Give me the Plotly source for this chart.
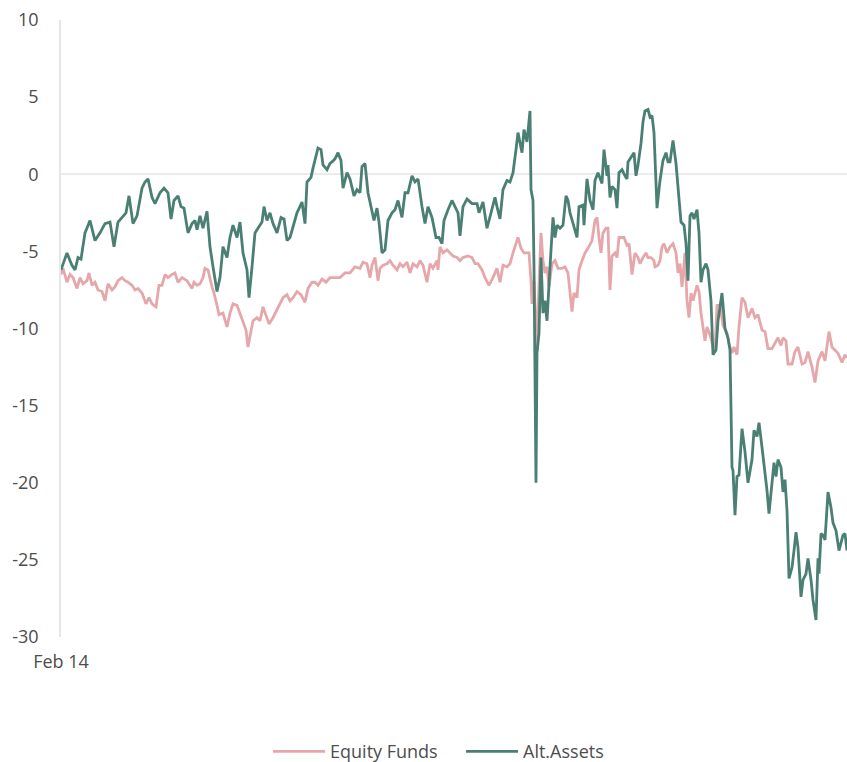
import pandas as pd
import plotly.graph_objects as go

start_date = "2022-02-14"
x_tick_label = "Feb 14"
y_ticks = [10, 5, 0, -5, -10, -15, -20, -25, -30]
y_tick_labels = ["10", "5", "0", "-5", "-10", "-15", "-20", "-25", "-30"]
x_span_days = 786

eq_day = [0, 2, 6, 9, 12, 16, 19, 22, 26, 28, 31, 34, 37, 41, 44, 47, 51, 54, 57, 61, 64, 67, 71, 74, 77, 81, 85, 88, 91, 95, 98, 101, 104, 107, 111, 114, 117, 121, 126, 131, 133, 136, 139, 142, 144, 147, 151, 153, 156, 158, 162, 166, 169, 172, 176, 179, 182, 185, 187, 190, 192, 196, 199, 202, 205, 208, 212, 215, 218, 222, 226, 229, 232, 236, 240, 244, 247, 251, 254, 257, 261, 265, 269, 274, 279, 284, 289, 294, 299, 302, 306, 309, 311, 314, 317, 319, 322, 326, 329, 332, 336, 339, 342, 346, 349, 352, 356, 359, 362, 366, 369, 372, 376, 377, 379, 382, 386, 389, 392, 396, 399, 402, 407, 411, 414, 417, 421, 424, 428, 432, 436, 439, 442, 446, 449, 452, 455, 457, 460, 463, 466, 468, 470, 471, 473, 475, 476, 478, 480, 482, 484, 486, 488, 491, 494, 497, 501, 504, 507, 511, 513, 516, 518, 521, 524, 527, 531, 534, 536, 538, 540, 542, 545, 547, 549, 551, 554, 556, 558, 561, 563, 566, 568, 571, 574, 577, 579, 582, 585, 587, 590, 593, 594, 597, 599, 601, 603, 606, 609, 612, 615, 617, 619, 621, 624, 626, 628, 630, 632, 636, 638, 640, 642, 644, 646, 649, 652, 654, 656, 659, 662, 666, 668, 671, 673, 676, 678, 681, 684, 687, 691, 694, 697, 701, 704, 707, 711, 714, 717, 720, 722, 725, 727, 731, 734, 737, 741, 744, 747, 751, 754, 757, 761, 764, 767, 768, 771, 774, 777, 781, 784, 786]
eq_val = [-6.5, -6.1, -7.0, -6.5, -6.7, -7.4, -6.7, -7.1, -6.9, -6.4, -7.2, -7.0, -7.5, -7.6, -8.2, -7.1, -7.5, -7.3, -6.9, -6.7, -6.9, -7.0, -7.2, -7.5, -7.4, -7.7, -8.4, -8.0, -8.4, -8.6, -7.2, -7.2, -6.5, -6.7, -6.5, -6.4, -7.0, -6.7, -6.9, -7.4, -7.0, -7.2, -7.1, -6.7, -6.1, -6.2, -7.3, -7.7, -8.5, -9.1, -9.0, -9.9, -9.0, -8.4, -8.5, -9.0, -9.5, -10.1, -11.2, -10.3, -9.5, -9.3, -9.5, -8.6, -9.1, -9.7, -9.3, -8.9, -8.5, -8.0, -7.8, -8.2, -8.0, -7.6, -7.8, -8.3, -7.4, -7.0, -7.0, -7.2, -6.8, -7.0, -6.7, -6.7, -6.7, -6.4, -6.4, -6.0, -6.1, -5.7, -5.8, -6.7, -5.9, -5.4, -6.9, -6.1, -5.9, -5.8, -5.6, -5.9, -6.2, -5.8, -6.0, -5.7, -6.4, -5.8, -6.0, -5.6, -5.9, -7.0, -5.8, -6.1, -5.6, -6.2, -4.7, -5.1, -4.9, -5.1, -5.3, -5.4, -5.6, -5.4, -5.3, -5.4, -5.8, -5.8, -6.2, -6.7, -7.2, -6.7, -6.1, -7.0, -5.9, -6.0, -5.8, -5.1, -4.5, -4.1, -4.8, -5.1, -5.1, -5.1, -6.9, -8.4, -6.9, -9.9, -11.4, -7.1, -3.8, -5.6, -6.4, -6.0, -7.3, -5.8, -5.6, -6.1, -6.1, -6.0, -6.4, -8.9, -7.7, -8.0, -6.2, -5.6, -5.1, -4.8, -4.3, -3.0, -2.8, -4.1, -5.1, -3.8, -3.5, -3.5, -7.5, -5.3, -5.1, -5.4, -4.1, -4.1, -4.1, -4.6, -4.5, -6.5, -5.1, -5.4, -5.8, -5.4, -5.1, -5.4, -5.4, -5.6, -6.0, -5.9, -5.6, -4.7, -4.5, -5.1, -4.7, -4.5, -5.1, -6.4, -5.8, -7.3, -5.1, -8.2, -9.3, -7.7, -8.2, -7.2, -7.6, -9.0, -9.8, -10.8, -9.9, -10.4, -11.2, -11.4, -8.5, -8.5, -9.8, -10.3, -11.0, -11.6, -11.2, -11.7, -9.9, -8.0, -8.3, -9.3, -8.7, -9.3, -9.1, -10.1, -10.2, -11.3, -11.3, -10.9, -10.6, -11.1, -10.6, -10.8, -12.3, -12.3, -11.5, -11.2, -12.3, -12.2, -11.5, -12.5, -13.5, -12.1, -11.5, -12.1, -10.6, -10.2, -11.2, -11.4, -11.6, -12.2, -11.7, -11.9]

alt_day = [0, 3, 6, 9, 11, 14, 17, 20, 24, 29, 34, 39, 44, 49, 53, 57, 61, 65, 68, 72, 76, 81, 84, 87, 91, 94, 99, 103, 107, 110, 113, 117, 120, 123, 127, 131, 134, 136, 139, 142, 146, 149, 152, 156, 159, 162, 166, 169, 172, 176, 179, 182, 186, 188, 191, 194, 197, 201, 203, 206, 209, 212, 216, 220, 223, 226, 229, 232, 236, 241, 244, 246, 250, 252, 255, 257, 260, 262, 266, 269, 271, 274, 277, 280, 282, 286, 289, 293, 296, 299, 301, 304, 307, 311, 313, 316, 318, 321, 324, 327, 331, 334, 337, 341, 344, 347, 351, 354, 357, 361, 364, 367, 371, 375, 378, 381, 383, 387, 391, 394, 397, 399, 402, 406, 411, 416, 418, 422, 426, 430, 434, 436, 439, 442, 446, 449, 452, 455, 457, 461, 463, 466, 469, 470, 472, 473, 475, 476, 478, 480, 482, 484, 486, 489, 492, 494, 496, 499, 502, 505, 507, 509, 512, 516, 518, 522, 523, 526, 529, 532, 534, 537, 541, 543, 546, 547, 549, 551, 554, 556, 558, 561, 564, 566, 567, 571, 573, 575, 577, 580, 582, 584, 587, 589, 591, 593, 595, 596, 599, 602, 605, 607, 609, 612, 615, 617, 620, 623, 625, 627, 629, 631, 633, 636, 638, 640, 642, 645, 647, 650, 652, 655, 657, 661, 664, 667, 669, 671, 672, 674, 676, 678, 681, 684, 687, 691, 693, 696, 698, 701, 703, 706, 708, 711, 713, 715, 717, 720, 722, 724, 726, 728, 731, 733, 735, 737, 740, 742, 745, 747, 750, 752, 755, 757, 758, 760, 762, 764, 767, 770, 772, 775, 778, 782, 784, 786]
alt_val = [-6.2, -5.7, -5.1, -5.6, -5.9, -6.2, -5.4, -5.5, -3.8, -3.0, -4.3, -3.8, -3.2, -3.1, -4.7, -3.1, -2.8, -2.5, -1.4, -3.2, -2.7, -0.9, -0.5, -0.3, -1.5, -1.9, -1.2, -0.9, -1.2, -2.9, -1.7, -1.4, -2.1, -2.2, -3.8, -3.2, -3.0, -3.6, -2.7, -3.5, -2.4, -4.7, -6.0, -7.6, -6.7, -4.7, -5.4, -4.1, -3.3, -4.1, -3.1, -5.1, -6.2, -8.0, -6.0, -3.8, -3.5, -3.1, -2.1, -3.0, -2.5, -3.2, -3.8, -2.8, -2.9, -4.3, -4.1, -3.4, -2.5, -1.8, -3.2, -0.5, -0.2, 0.4, 1.1, 1.7, 1.6, 0.6, 0.3, 0.7, 0.8, 1.0, 1.4, 0.9, -0.9, 0.1, -0.3, -1.4, -1.0, -1.2, 0.5, 0.7, -1.2, -2.5, -3.0, -2.2, -3.1, -5.1, -4.9, -3.0, -2.5, -2.3, -1.7, -2.8, -1.2, -1.2, -0.1, -0.5, -0.3, -2.1, -3.2, -2.1, -2.8, -4.1, -4.1, -4.5, -3.0, -2.3, -1.7, -2.1, -2.5, -4.0, -2.1, -1.6, -1.9, -1.9, -2.5, -1.8, -3.5, -2.5, -1.5, -2.1, -2.9, -1.0, -0.4, -0.5, 0.1, 1.6, 2.7, 1.4, 2.9, 2.1, 4.1, -1.0, -1.7, -6.0, -20.0, -11.6, -10.3, -5.4, -9.0, -8.2, -9.5, -6.0, -2.8, -4.1, -3.3, -3.5, -3.3, -1.4, -1.7, -2.5, -3.2, -4.1, -2.1, -2.0, -3.3, -0.3, -1.7, -2.3, -0.4, 0.1, -0.6, 1.6, -0.1, 0.6, -1.5, -0.8, -1.0, -2.2, 0.1, 0.3, -0.1, -0.3, 0.8, 1.2, 1.4, -0.1, 0.6, 2.0, 3.4, 4.1, 4.2, 3.7, 3.8, 2.7, -1.0, -2.2, -0.4, 0.9, 1.4, 0.8, 0.8, 2.2, 0.7, -1.0, -3.1, -3.3, -4.5, -6.9, -2.7, -2.5, -2.9, -2.3, -3.8, -7.0, -6.2, -5.8, -6.2, -8.2, -11.7, -11.4, -9.5, -7.7, -10.0, -10.6, -11.4, -19.0, -19.2, -22.1, -19.6, -19.5, -16.5, -18.0, -20.0, -18.5, -16.6, -17.0, -16.1, -17.7, -18.7, -20.5, -22.0, -20.0, -18.7, -19.6, -18.5, -19.0, -20.6, -19.8, -21.8, -26.2, -25.5, -24.4, -23.2, -24.2, -27.4, -26.3, -25.9, -24.9, -26.3, -27.6, -28.9, -24.9, -25.9, -23.3, -23.4, -23.7, -20.6, -21.6, -22.6, -23.1, -24.4, -23.4, -23.3, -24.4]

t0 = pd.Timestamp(start_date)
eq_x = [t0 + pd.Timedelta(days=d) for d in eq_day]
alt_x = [t0 + pd.Timedelta(days=d) for d in alt_day]

font_family = "Open Sans, Noto Sans, sans-serif"
text_color = "#4d4d4d"
fsize = 18

fig = go.Figure()
fig.add_trace(go.Scatter(x=eq_x, y=eq_val, mode="lines", name="Equity Funds",
                         line=dict(color="#e6a7ab", width=2.8)))
fig.add_trace(go.Scatter(x=alt_x, y=alt_val, mode="lines", name="Alt.Assets",
                         line=dict(color="#4a7f74", width=2.8)))

fig.update_layout(
    width=847, height=762,
    margin=dict(l=61, r=0, t=20, b=125, autoexpand=False),
    paper_bgcolor="white", plot_bgcolor="white",
    font=dict(family=font_family, size=fsize, color=text_color),
    showlegend=True,
    legend=dict(orientation="h", x=0.2634, xanchor="left", y=-0.156, yanchor="top",
                font=dict(size=fsize, color=text_color), itemwidth=52,
                entrywidth=126, entrywidthmode="pixels",
                traceorder="normal"),
    xaxis=dict(
        type="date",
        range=[t0, t0 + pd.Timedelta(days=x_span_days)],
        tickvals=[t0], ticktext=[x_tick_label],
        showgrid=False, zeroline=False, showline=False,
        ticks="", ticklabelstandoff=12,
        tickfont=dict(size=fsize, color=text_color),
    ),
    yaxis=dict(
        range=[-30, 10],
        tickvals=y_ticks, ticktext=y_tick_labels,
        showgrid=False,
        zeroline=True, zerolinecolor="#ebebeb", zerolinewidth=1.5,
        showline=True, linecolor="#e6e6e6", linewidth=1.5,
        ticks="", ticklabelstandoff=17,
        tickfont=dict(size=fsize, color=text_color),
    ),
)

fig.write_html(
    "out.html",
    config={"displayModeBar": False},
    post_script=(
        "document.body.style.margin='0';"
        "document.body.style.overflow='hidden';"
    ),
)
